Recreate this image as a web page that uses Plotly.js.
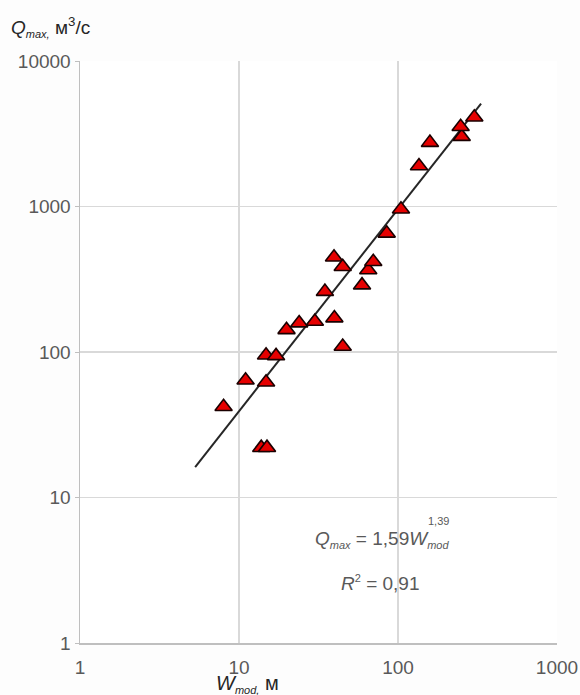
<!DOCTYPE html>
<html><head><meta charset="utf-8">
<script src="https://cdn.plot.ly/plotly-3.0.1.min.js"></script>
<style>html,body{margin:0;padding:0;background:#fdfdfd;}#chart{width:580px;height:695px;}</style>
</head><body><div id="chart"></div>
<script>
// Observed points: channel width W_mod (m) and peak discharge Q_max (m3/s)
const widthW = [8.0, 11.0, 14.8, 14.8, 17.1, 13.8, 15.0, 19.9, 23.9, 30.0, 39.8, 44.9, 34.7, 39.6, 44.9, 59.4, 65.0, 69.9, 84.9, 104.4, 135.5, 158.8, 251.6, 247.7, 302];
const dischargeQ = [42, 64, 62, 95, 94, 22, 22, 142, 158, 162, 171, 109, 260, 448, 385, 288, 366, 417, 654, 957, 1897, 2748, 3020, 3535, 4103];
// Power-law trendline endpoints
const trendW = [5.3, 333];
const trendQ = [16.2, 5100];
const xTickVals = [1, 10, 100, 1000];
const xTickText = ["1", "10", "100", "1000"];
const yTickVals = [1, 10, 100, 1000, 10000];
const yTickText = ["1", "10", "100", "1000", "10000"];

const gray = '#595959';
const font = 'Liberation Sans, Arial, sans-serif';
const small = t => '<span style="font-size:11px">' + t + '</span>';

const traces = [
  {x: trendW, y: trendQ, mode: 'lines', type: 'scatter',
   line: {color: '#262626', width: 2}, hoverinfo: 'skip'},
  {x: widthW, y: dischargeQ, mode: 'markers', type: 'scatter',
   marker: {symbol: 'triangle-up', size: 15, color: '#e60000',
            line: {color: '#1a0000', width: 1.6}}}
];

const layout = {
  width: 580, height: 695,
  paper_bgcolor: '#fdfdfd', plot_bgcolor: '#ffffff',
  margin: {l: 80, r: 23, t: 61, b: 52},
  showlegend: false,
  font: {family: font, color: gray, size: 19},
  xaxis: {type: 'log', range: [0, 3], tickvals: xTickVals, ticktext: xTickText,
          showgrid: true, gridcolor: '#d9d9d9', gridwidth: 1.5,
          showline: true, linecolor: '#bfbfbf', linewidth: 1.5, mirror: false,
          ticks: '', ticklabelstandoff: 7, zeroline: false, tickfont: {size: 19, color: gray}},
  yaxis: {type: 'log', range: [0, 4], tickvals: yTickVals, ticktext: yTickText,
          showgrid: true, gridcolor: '#d9d9d9', gridwidth: 1.5,
          showline: true, linecolor: '#bfbfbf', linewidth: 1.5,
          ticks: 'outside', ticklen: 4, tickcolor: '#bfbfbf',
          zeroline: false, tickfont: {size: 19, color: gray}},
  annotations: [
    {xref: 'paper', yref: 'paper', x: -0.148, y: 1.058, xanchor: 'left', yanchor: 'middle',
     showarrow: false, font: {size: 19, color: '#262626', family: font},
     text: '<i>Q</i><sub><i>' + small('max,') + '</i></sub> м<sup>3</sup>/с'},
    {xref: 'paper', yref: 'paper', x: 0.28, y: -0.07, xanchor: 'left', yanchor: 'middle',
     showarrow: false, font: {size: 20, color: '#262626', family: font},
     text: '<i>W</i><sub><i>' + small('mod,') + '</i></sub> м'},
    {xref: 'paper', yref: 'paper', x: 0.488, y: 0.177, xanchor: 'left', yanchor: 'middle',
     showarrow: false, font: {size: 19, color: gray, family: font},
     text: '<i>Q</i><sub><i>' + small('max') + '</i></sub> = 1,59<i>W</i><sub><i>' + small('mod') + '</i></sub>'},
    {xref: 'paper', yref: 'paper', x: 0.726, y: 0.209, xanchor: 'left', yanchor: 'middle',
     showarrow: false, font: {size: 11, color: gray, family: font},
     text: '1,39'},
    {xref: 'paper', yref: 'paper', x: 0.543, y: 0.103, xanchor: 'left', yanchor: 'middle',
     showarrow: false, font: {size: 19, color: gray, family: font},
     text: '<i>R</i><sup>' + small('2') + '</sup> = 0,91'}
  ]
};

Plotly.newPlot('chart', traces, layout, {displayModeBar: false, staticPlot: true});
</script></body></html>
